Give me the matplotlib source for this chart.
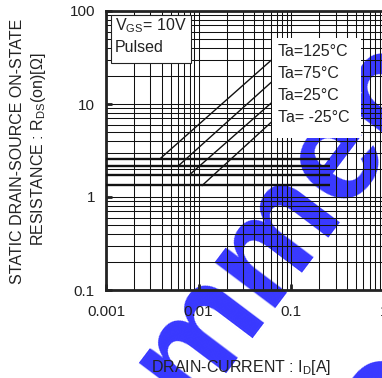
import matplotlib
matplotlib.use("Agg")
import matplotlib.pyplot as plt
from matplotlib.patches import Rectangle
from matplotlib.ticker import LogLocator, NullFormatter

plt.rcParams['font.family'] = ['Liberation Sans', 'DejaVu Sans']
plt.rcParams['mathtext.fontset'] = 'custom'
plt.rcParams['mathtext.rm'] = 'Liberation Sans'
plt.rcParams['mathtext.it'] = 'Liberation Sans'

# ---- data ----
temp_labels = ["Ta=125°C", "Ta=75°C", "Ta=25°C", "Ta= -25°C"]
plateau_r = [2.56, 2.15, 1.72, 1.33]          # ohm, flat part
plateau_i = [0.001, 0.26]                      # A, extent of flat part
diag_start_i = [0.0038, 0.0060, 0.0079, 0.0109]
diag_end_i = [0.061, 0.061, 0.061, 0.061]
diag_end_r = [29.7, 17.2, 10.3, 6.4]
x_ticks = [0.001, 0.01, 0.1, 1]
x_ticklabels = ["0.001", "0.01", "0.1", "1"]
y_ticks = [0.1, 1, 10, 100]
y_ticklabels = ["0.1", "1", "10", "100"]

W, H = 382, 378
fig = plt.figure(figsize=(W / 100, H / 100), dpi=100)
fig.patch.set_facecolor('white')

def fx(px):
    return px / W

def fy(py):
    return 1 - py / H

L, R, T, B = 106, 384, 11, 290
ax = fig.add_axes([fx(L), fy(B), fx(R) - fx(L), fy(T) - fy(B)])
ax.set_facecolor('none')
ax.set_xscale('log')
ax.set_yscale('log')
ax.set_xlim(0.001, 1)
ax.set_ylim(0.1, 100)

ax.xaxis.set_minor_locator(LogLocator(base=10, subs=range(2, 10)))
ax.yaxis.set_minor_locator(LogLocator(base=10, subs=range(2, 10)))
ax.xaxis.set_minor_formatter(NullFormatter())
ax.yaxis.set_minor_formatter(NullFormatter())
ax.set_xticks(x_ticks)
ax.set_xticklabels(x_ticklabels)
ax.set_yticks(y_ticks)
ax.set_yticklabels(y_ticklabels)
ax.tick_params(which='major', direction='in', length=4, width=2, labelsize=11,
               color='#222222', labelcolor='#222222')
ax.tick_params(axis='x', which='major', pad=11)
ax.tick_params(axis='y', which='major', pad=8)
ax.tick_params(which='minor', length=0)
ax.grid(which='both', color='#111111', linewidth=0.75, zorder=1)
ax.set_axisbelow(True)
for s in ax.spines.values():
    s.set_linewidth(2.0)
    s.set_color('#222222')

# curves
for r, i0, i1, r1 in zip(plateau_r, diag_start_i, diag_end_i, diag_end_r):
    ax.plot(plateau_i, [r, r], color='#111111', linewidth=1.7, zorder=3,
            solid_capstyle='butt')
    ax.plot([i0, i1], [r, r1], color='#111111', linewidth=1.0, zorder=3)

# condition box
box1 = Rectangle((fx(111), fy(63)), fx(191) - fx(111), fy(15) - fy(63),
                 transform=fig.transFigure, facecolor='white', edgecolor='#222222',
                 linewidth=0.8, zorder=5, clip_on=False)
ax.add_patch(box1)
ax.text(fx(115), fy(26), r"V$_{\mathregular{GS}}$= 10V", transform=fig.transFigure,
        fontsize=11.5, ha='left', va='center', zorder=6, color='#222222')
ax.text(fx(115), fy(48), "Pulsed", transform=fig.transFigure,
        fontsize=11.5, ha='left', va='center', zorder=6, color='#222222')

# temperature label box (no border)
box2 = Rectangle((fx(272), fy(138)), fx(361) - fx(272), fy(38) - fy(138),
                 transform=fig.transFigure, facecolor='white', edgecolor='none',
                 zorder=5, clip_on=False)
ax.add_patch(box2)
for k, lab in enumerate(temp_labels):
    ax.text(fx(278), fy(52 + k * 22), lab, transform=fig.transFigure,
            fontsize=11.5, ha='left', va='center', zorder=6, color='#222222')

# axis labels
fig.text(fx(17.5), fy(151), "STATIC DRAIN-SOURCE ON-STATE", rotation=90,
         fontsize=11.5, ha='center', va='center', color='#222222')
fig.text(fx(39), fy(149), r"RESISTANCE : R$_{\mathregular{DS}}$(on)[Ω]", rotation=90,
         fontsize=11.5, ha='center', va='center', color='#222222')
fig.text(fx(241), fy(372), r"DRAIN-CURRENT : I$_{\mathregular{D}}$[A]",
         fontsize=11.5, ha='center', va='baseline', color='#222222')

# watermark
fig.text(fx(258), fy(257), "Recommended", rotation=53, rotation_mode='anchor',
         fontsize=102, fontweight='bold', color='#3838ff', ha='center', va='center',
         zorder=-10)
fig.text(fx(383), fy(398), "o", rotation=53, rotation_mode='anchor',
         fontsize=102, fontweight='bold', color='#3838ff', ha='center', va='center',
         zorder=-10)

fig.savefig("out.png", dpi=100)
